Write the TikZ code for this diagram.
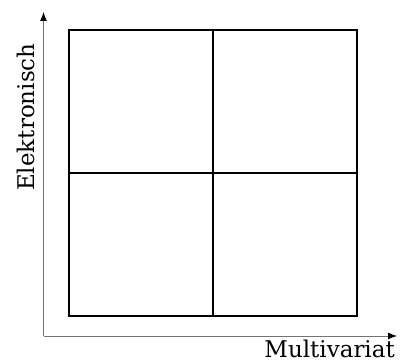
\documentclass[tikz,border=0pt]{standalone}
\usepackage{fontspec}
\setmainfont{DejaVu Serif}
\usetikzlibrary{arrows.meta}
\begin{document}
\begin{tikzpicture}[x=1pt,y=1pt,
  axis/.style={draw=black!55,line width=0.9pt,-{Latex[length=9pt,width=7pt,black]}},
  cell/.style={draw=black,line width=1.2pt},
  lbl/.style={font=\fontsize{23}{27}\selectfont,inner sep=0pt}]
\useasboundingbox (0,0) rectangle (400,363);
\coordinate (o) at (43.5,27);
\coordinate (ytip) at (43.5,351);
\coordinate (xtip) at (397,27);
\draw[axis] (o) -- (ytip);
\draw[axis] (o) -- (xtip);
\coordinate (sw) at (69,47);
\coordinate (ne) at (357,333);
\coordinate (mb) at (213,47);
\coordinate (mt) at (213,333);
\coordinate (ml) at (69,190);
\coordinate (mr) at (357,190);
\draw[cell] (sw) rectangle (ne);
\draw[cell] (mb) -- (mt);
\draw[cell] (ml) -- (mr);
\node[lbl,anchor=base east] (xl) at (395,5.5) {Multivariat};
\node[lbl,anchor=base west,rotate=90] (yl) at (34,172) {Elektronisch};
\end{tikzpicture}
\end{document}
